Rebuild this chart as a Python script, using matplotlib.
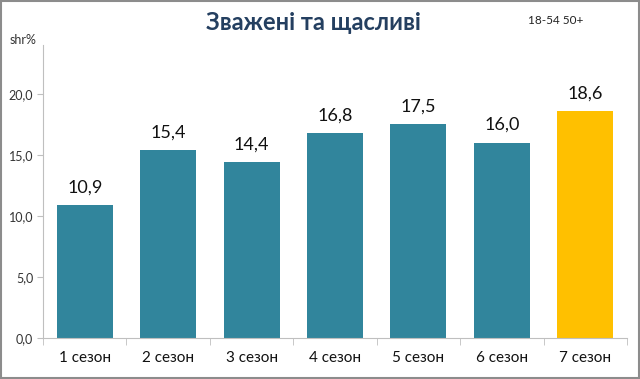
import matplotlib
matplotlib.use('Agg')
from matplotlib import pyplot as plt
from matplotlib.patches import Rectangle

plt.rcParams['font.family'] = ['Lato', 'DejaVu Sans']

# Data
seasons = ['1 сезон', '2 сезон', '3 сезон', '4 сезон', '5 сезон', '6 сезон', '7 сезон']
shares = [10.9, 15.4, 14.4, 16.8, 17.5, 16.0, 18.6]
yticks = [0, 5, 10, 15, 20]

teal = '#31859C'
gold = '#FFC000'
colors = [teal] * 6 + [gold]

fig = plt.figure(figsize=(6.4, 3.79), dpi=100)
ax = fig.add_axes([43 / 640, 1 - 338 / 379, 584 / 640, 293 / 379])

x = range(len(seasons))
bars = ax.bar(x, shares, width=0.67, color=colors, edgecolor='none')

# value labels above bars
for xi, v in zip(x, shares):
    ax.text(xi, v + 0.8, f'{v:.1f}'.replace('.', ','), ha='center', va='bottom',
            fontsize=13, color='#111111')

ax.set_xlim(-0.5, len(seasons) - 0.5)
ax.set_ylim(0, 24)
ax.set_yticks(yticks)
ax.set_yticklabels([f'{t:.1f}'.replace('.', ',') for t in yticks], fontsize=9, color='#333333')
ax.set_xticks(list(x))
ax.set_xticklabels(seasons, fontsize=11, color='#111111')
ax.set_xticks([i + 0.5 for i in range(-1, len(seasons))], minor=True)
ax.tick_params(axis='x', which='major', length=0, pad=9)
ax.tick_params(axis='x', which='minor', length=5, color='#BFBFBF', direction='out')
ax.tick_params(axis='y', length=4, color='#BFBFBF', direction='out', pad=3)

for side in ['top', 'right']:
    ax.spines[side].set_visible(False)
ax.spines['left'].set_color('#BFBFBF')
ax.spines['bottom'].set_color('#BFBFBF')

fig.text(0.49, 1 - 22 / 379, 'Зважені та щасливі', ha='center', va='center',
         fontsize=17, fontweight='bold', color='#243F60')
fig.text(528 / 640, 1 - 21 / 379, '18-54 50+', ha='left', va='center',
         fontsize=8.5, color='#222222')
fig.text(10 / 640, 1 - 40 / 379, 'shr%', ha='left', va='center',
         fontsize=9, color='#333333')

# grey frame around the picture
fig.patches.append(Rectangle((0.002, 0.003), 0.996, 0.994, transform=fig.transFigure,
                             fill=False, edgecolor='#8C8C8C', linewidth=1.5))

fig.savefig('out.png', dpi=100)
